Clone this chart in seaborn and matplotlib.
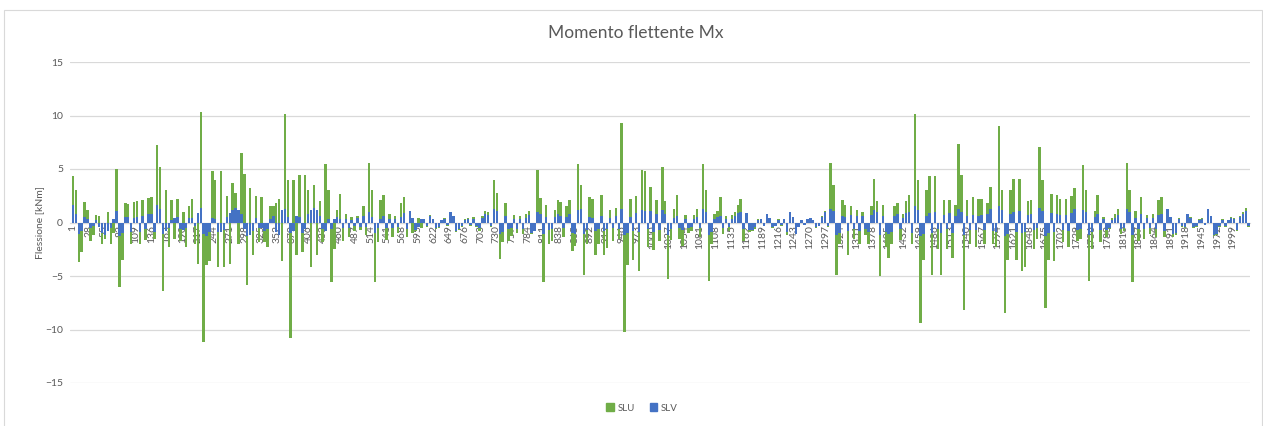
import numpy as np
import pandas as pd
import seaborn as sns
import matplotlib.pyplot as plt
from matplotlib.patches import Rectangle

# Mx [kNm], one reading every 5 sections (1, 6, 11, ...)
slu = [
    # sections 1-146
    4.3, 3.0, -3.7, -2.8, 1.9, 1.2, -1.7, -1.2, 0.7, 0.6,
    -2.0, -1.5, 1.0, -2.0, -1.0, 5.0, -6.0, -3.5, 1.8, 1.7,
    -2.0, 1.9, 2.0, -2.0, 2.1, -1.6, 2.3, 2.4, -1.5, 7.2,
    # 151-321
    5.2, -6.4, 3.0, -2.3, 2.1, -1.5, 2.2, -1.7, 1.0, -2.3,
    1.5, 2.2, -2.0, -3.9, 10.3, -11.2, -4.0, -3.6, 4.8, 4.0,
    -4.2, 4.8, -4.2, 2.5, -3.9, 3.7, 2.8, -2.0, 6.5, 4.5,
    -5.8, 3.2, -3.0, 2.5, -1.8,
    # 326-496
    2.4, -1.8, -2.3, 1.5, 1.5, 1.8, 2.2, -3.6, 10.1, 4.0,
    -10.8, 4.0, -3.0, 4.4, -2.8, 4.4, 3.0, -4.2, 3.5, -3.0,
    2.0, -1.8, 5.5, 3.0, -5.6, -2.5, 1.2, 2.7, -1.7, 0.8,
    -1.4, 0.5, -0.8, 0.6, -0.7,
    # 501-666
    1.5, -1.2, 5.6, 3.0, -5.6, -1.8, 2.1, 2.6, -1.6, 0.8,
    -1.4, 0.6, -1.0, 1.8, 2.4, -1.4, 1.1, -1.0, -0.8, 0.4,
    -0.5, 0.3, -0.4, 0.7, 0.3, -0.6, -0.5, 0.2, 0.4, -0.3,
    1.0, 0.6, -0.9, -0.7,
    # 671-836
    -0.4, 0.3, 0.4, -0.3, 0.5, -0.4, -0.8, 0.6, 1.1, 1.0,
    -0.4, 4.0, 2.8, -3.4, -1.8, 1.8, -1.7, -1.3, 0.7, -1.0,
    0.6, -1.1, 0.8, 1.1, -1.1, -0.8, 4.9, 2.3, -5.6, 1.6,
    -2.0, -1.7, 1.2, 2.1,
    # 841-1011
    1.9, -1.4, 1.5, 2.1, -2.7, -2.2, 5.5, 3.5, -4.9, -2.0,
    2.4, 2.2, -3.0, -2.0, 2.6, -3.0, -2.4, 1.2, -1.7, 1.4,
    -1.5, 9.3, -10.2, -4.0, 2.2, -3.5, 2.5, -4.5, 4.9, 4.8,
    -2.3, 3.3, -2.6, 2.1, -1.7,
    # 1016-1181
    5.2, 2.0, -5.3, -1.6, 1.3, 2.6, -1.5, -2.2, 0.7, -1.0,
    -0.8, 0.7, 1.3, -1.4, 5.5, 3.0, -5.5, -2.0, 0.8, 1.1,
    2.4, -1.1, 0.6, -0.8, 0.7, 1.0, 1.6, 2.2, -1.7, 0.9,
    -0.9, -0.8, -0.6, 0.3,
    # 1186-1356
    0.3, -0.3, 0.8, 0.4, -0.5, -0.3, 0.3, -0.3, 0.3, -1.2,
    1.0, 0.5, -1.1, -0.4, 0.2, -0.2, 0.3, 0.4, 0.2, -0.5,
    -0.3, 0.6, 1.1, -0.4, 5.6, 3.5, -4.9, -2.0, 2.1, 1.6,
    -3.0, 1.5, -1.5, 1.2, -2.0,
    # 1361-1526
    1.0, -1.2, -2.0, 1.5, 4.1, 2.0, -5.0, 1.6, -2.3, -3.3,
    -2.0, 1.5, 1.8, -1.6, 0.8, 2.0, 2.6, -2.0, 10.1, 4.0,
    -9.4, -3.5, 3.0, 4.3, -4.9, 4.3, -2.5, -4.9, 2.1, -2.5,
    2.1, -3.3, 1.6, 7.3,
    # 1531-1696
    4.4, -8.2, 2.1, -2.0, 2.4, -2.3, 2.2, 2.2, -2.0, 1.8,
    3.3, -2.0, -2.3, 9.0, 3.0, -8.5, -3.5, 3.0, 4.1, -3.5,
    4.1, -4.5, -4.2, 2.0, 2.1, -2.5, -1.5, 7.1, 4.0, -8.0,
    -3.5, 2.7, -3.6, 2.6,
    # 1701-1871
    2.2, -1.8, 2.2, -2.3, 2.5, 3.2, -1.7, -1.5, 5.4, 3.0,
    -5.5, -2.5, 1.1, 2.6, -1.8, 0.5, -1.4, -0.6, 0.4, 0.8,
    1.3, -1.1, -0.8, 5.6, 3.0, -5.6, 1.1, -1.7, 2.4, -1.5,
    0.7, -1.1, 0.8, -1.4, 2.1,
    # 1876-2026
    2.4, -1.4, 1.3, 0.5, -1.4, -1.2, 0.4, -0.4, -0.5, 0.8,
    0.5, -0.5, -0.4, 0.3, 0.4, -0.2, 1.3, 0.6, -1.3, -1.2,
    -0.4, 0.3, -0.4, 0.2, 0.5, 0.4, -0.8, 0.6, 1.0, 1.4,
    -0.4,
]

slv = [
    1.6, 0.8, -1.1, -0.8, 0.5, 0.3, -0.5, -0.3, 0.2, -0.4,
    -1.0, -1.2, -0.8, -0.5, 0.3, 1.1, -1.3, -1.0, 0.5, 0.5,
    -0.9, 0.4, 0.5, -0.9, 0.6, -0.6, 0.8, 0.8, -0.9, 1.6,
    1.3, -1.1, -0.8, -0.5, 0.2, 0.4, 0.5, -0.6, -0.7, -0.5,
    0.4, 0.4, -0.3, 0.9, 1.4, -1.1, -1.3, -0.9, 0.4, 0.3,
    -0.9, -0.9, -0.7, 0.5, 0.9, 1.2, 1.4, 1.2, 0.8, -0.6,
    -1.3, -1.2, -0.8, 0.4, -0.5,
    -0.5, -0.8, -0.6, 0.3, 0.6, -0.9, -1.2, 1.2, 1.3, 0.5,
    -1.0, -0.8, 0.6, 0.5, -1.0, -0.6, 0.8, 1.2, 1.4, 1.2,
    0.6, -0.6, -0.8, 0.3, -0.6, 0.3, 0.5, 0.3, -0.5, 0.3,
    -0.5, 0.2, -0.3, 0.4, -0.4,
    0.6, -0.4, 1.0, 0.5, -1.0, -0.5, 0.3, 0.6, -0.5, 0.3,
    -0.5, 0.3, -0.4, 0.5, 0.9, -0.6, 1.1, 0.4, -0.7, -0.4,
    0.3, 0.3, -0.3, 0.6, 0.3, -0.5, -0.4, 0.2, 0.3, -0.2,
    1.0, 0.6, -0.8, -0.6,
    -0.3, 0.2, 0.3, -0.2, 0.3, -0.3, -0.5, 0.4, 0.8, 0.7,
    -0.3, 1.3, 1.1, -1.1, -0.9, 0.6, -0.6, -0.5, 0.3, -0.6,
    0.3, -0.6, 0.4, 0.7, -1.0, -0.8, 1.0, 0.8, -1.1, 0.5,
    -0.7, -0.6, 0.5, 0.8,
    0.6, -0.5, 0.5, 0.8, -1.0, -1.1, 1.2, 1.3, -1.1, -0.7,
    0.5, 0.4, -0.8, -0.6, 0.6, -0.8, -0.6, 0.4, -0.5, 0.6,
    -0.6, 1.3, -1.2, -1.0, 0.5, -0.8, 0.9, -0.9, 1.2, 1.1,
    -0.6, 1.1, -0.9, 0.8, -0.7,
    1.2, 0.8, -1.2, -0.6, 0.4, 0.6, -0.5, -0.7, 0.3, -0.5,
    -0.4, 0.3, 0.5, -0.5, 1.3, 1.0, -1.2, -0.9, 0.3, 0.5,
    0.6, -0.5, 0.3, -0.4, 0.3, 0.6, 0.9, 1.0, -0.6, 0.9,
    -0.7, -0.7, -0.4, 0.2,
    0.3, -0.3, 0.8, 0.4, -0.4, -0.3, 0.2, -0.2, 0.3, -0.9,
    1.0, 0.5, -1.1, -0.4, 0.2, -0.2, 0.3, 0.4, 0.2, -0.4,
    -0.3, 0.5, 1.0, -0.3, 1.3, 1.1, -1.2, -1.0, 0.6, 0.5,
    -0.8, 0.7, -0.6, 0.6, -0.8,
    0.6, -0.6, -0.9, 0.7, 1.2, 1.0, -1.2, 0.6, -0.9, -1.1,
    -0.9, 0.6, 0.8, -0.6, 0.4, 0.9, 1.0, -1.0, 1.5, 1.2,
    -1.3, -1.1, 0.6, 0.9, -1.0, 1.0, -0.6, -1.0, 0.7, -0.6,
    0.9, -1.0, 0.6, 1.3,
    1.0, -1.2, 0.6, -0.7, 0.7, -0.7, 0.6, 0.7, -0.7, 0.8,
    1.3, -0.8, -0.9, 1.5, 1.2, -1.3, -1.1, 0.8, 1.0, -0.9,
    1.1, -1.0, -0.9, 0.7, 0.8, -0.7, -0.5, 1.4, 1.1, -1.3,
    -1.0, 0.9, -0.9, 0.8,
    0.7, -0.7, 0.7, -0.8, 0.9, 1.3, -0.7, -0.6, 1.2, 1.0,
    -1.2, -0.9, 0.5, 0.8, -0.7, 0.3, -0.7, -0.5, 0.2, 0.4,
    0.7, -0.6, -0.5, 1.3, 1.0, -1.2, 0.4, -0.6, 0.8, -0.6,
    0.4, -0.5, 0.4, -0.6, 0.7,
    0.8, -0.8, 1.3, 0.5, -1.1, -1.0, 0.3, -0.3, -0.4, 0.8,
    0.4, -0.4, -0.3, 0.2, 0.3, -0.2, 1.3, 0.6, -1.2, -1.1,
    -0.3, 0.2, -0.3, 0.2, 0.4, 0.3, -0.7, 0.5, 0.8, 1.1,
    -0.3,
]

tick_labels = ["1", "28", "55", "82", "109", "136", "163", "190", "217", "244",
               "271", "298", "325", "352", "379", "406", "433", "460", "487", "514",
               "541", "568", "595", "622", "649", "676", "703", "730", "757", "784",
               "811", "838", "865", "892", "919", "946", "973", "1000", "1027", "1054",
               "1081", "1108", "1135", "1162", "1189", "1216", "1243", "1270", "1297", "1324",
               "1351", "1378", "1405", "1432", "1459", "1486", "1513", "1540", "1567", "1594",
               "1621", "1648", "1675", "1702", "1729", "1756", "1783", "1810", "1837", "1864",
               "1891", "1918", "1945", "1972", "1999"]

step = 5
pos_slu = 1 + step * np.arange(len(slu))
pos_slv = 1 + step * np.arange(len(slv))
df = pd.DataFrame({
    "sezione": np.concatenate([pos_slu, pos_slv]),
    "Mx": slu + slv,
    "comb": ["SLU"] * len(slu) + ["SLV"] * len(slv),
})

colors = {"SLU": "#70AD47", "SLV": "#4472C4"}
grey = "#595959"

sns.set_style("white")
plt.rcParams["font.family"] = ["Lato", "DejaVu Sans"]

W, H = 1263, 426
fig = plt.figure(figsize=(W / 100, H / 100), dpi=100)
ax = fig.add_axes([70 / W, 1 - 383 / H, 1180 / W, 321 / H])

sns.barplot(data=df, x="sezione", y="Mx", hue="comb", hue_order=["SLU", "SLV"],
            palette=colors, native_scale=True, dodge=False, width=0.85,
            errorbar=None, saturation=1, linewidth=0, legend=False, ax=ax)

ax.set_ylim(-15, 15)
ax.set_yticks(range(-15, 16, 5))
ax.set_xlim(-4.2, 2028.3)
ax.grid(axis="y", color="#d9d9d9", linewidth=0.9)
ax.grid(axis="x", visible=False)
ax.set_axisbelow(True)
for s in ["left", "top", "right"]:
    ax.spines[s].set_visible(False)
ax.spines["bottom"].set_position(("data", 0))
ax.spines["bottom"].set_color("#d9d9d9")
ax.spines["bottom"].set_zorder(0.5)

ax.set_xticks([int(t) for t in tick_labels])
ax.set_xticklabels(tick_labels, rotation=90)
ax.tick_params(axis="x", length=0, pad=2, labelsize=7.5, labelcolor=grey)
ax.tick_params(axis="y", length=0, pad=5, labelsize=7.5, labelcolor=grey)
ax.set_xlabel("")
ax.set_ylabel("Flessione [kNm]", fontsize=7.5, color=grey, labelpad=1)

fig.text(636 / W, 1 - 33 / H, "Momento flettente Mx", ha="center", va="center",
         fontsize=12.5, color=grey)

handles = [Rectangle((0, 0), 1, 1, color=colors[k]) for k in ["SLU", "SLV"]]
fig.legend(handles, ["SLU", "SLV"], loc="center", bbox_to_anchor=(642 / W, 1 - 408 / H),
           ncol=2, frameon=False, fontsize=7, handlelength=0.8, handleheight=0.8,
           handletextpad=0.4, columnspacing=1.5, labelcolor=grey)

# thin chart-area frame, as in the spreadsheet export
fig.patches.append(Rectangle((4 / W, -0.05), 1258 / W, 1.05 - 10 / H,
                             transform=fig.transFigure, fill=False,
                             edgecolor="#d9d9d9", linewidth=0.8))

fig.savefig("out.png", dpi=100)
